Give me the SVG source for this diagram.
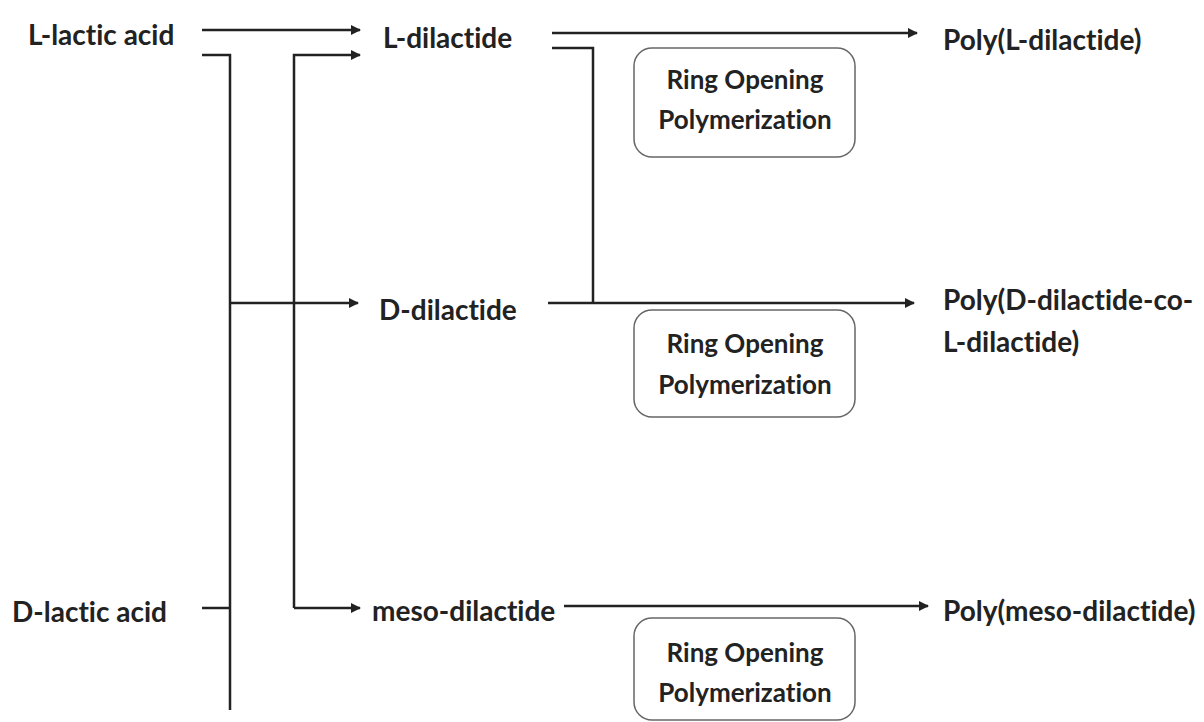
<svg xmlns="http://www.w3.org/2000/svg" width="1204" height="722" viewBox="0 0 1204 722">
<style>
.t{font-family:Lato,"Open Sans","Liberation Sans",sans-serif;font-weight:700;font-size:28px;fill:#222;font-variant-ligatures:none}
.b{font-family:Lato,"Open Sans","Liberation Sans",sans-serif;font-weight:700;font-size:26px;fill:#222;text-anchor:middle;font-variant-ligatures:none}
.ln{fill:none;stroke:#222;stroke-width:2.5}
.box{fill:#fff;stroke:#666;stroke-width:1.5}
</style>
<defs>
<marker id="ah" viewBox="0 0 10 10" refX="9" refY="5" markerWidth="4" markerHeight="4" orient="auto" markerUnits="strokeWidth">
<path d="M0,0 L10,5 L0,10 z" fill="#222"/>
</marker>
</defs>
<rect width="1204" height="722" fill="#fff"/>
<g id="connectors">
<path class="ln" d="M202,30 H360" marker-end="url(#ah)"/>
<path class="ln" d="M202,55 H230 V710"/>
<path class="ln" d="M202,608 H230"/>
<path class="ln" d="M230,303 H358" marker-end="url(#ah)"/>
<path class="ln" d="M294,608 V55 H360" marker-end="url(#ah)"/>
<path class="ln" d="M294,608 H360" marker-end="url(#ah)"/>
<path class="ln" d="M552,33 H917" marker-end="url(#ah)"/>
<path class="ln" d="M552,48 H593 V303"/>
<path class="ln" d="M548,303 H914" marker-end="url(#ah)"/>
<path class="ln" d="M564,606 H928" marker-end="url(#ah)"/>
</g>
<g id="l-lactic-acid"><text class="t" x="28" y="45">L-lactic acid</text></g>
<g id="d-lactic-acid"><text class="t" x="12" y="622">D-lactic acid</text></g>
<g id="l-dilactide"><text class="t" x="383" y="48">L-dilactide</text></g>
<g id="d-dilactide"><text class="t" x="379" y="320">D-dilactide</text></g>
<g id="meso-dilactide"><text class="t" x="372" y="621">meso-dilactide</text></g>
<g id="poly-l"><text class="t" x="943" y="50">Poly(L-dilactide)</text></g>
<g id="poly-dl"><text class="t" x="943" y="310">Poly(D-dilactide-co-</text><text class="t" x="943" y="352">L-dilactide)</text></g>
<g id="poly-meso"><text class="t" x="943" y="621">Poly(meso-dilactide)</text></g>
<g id="rop1"><rect class="box" x="634" y="48" width="221" height="109" rx="18"/><text class="b" x="745" y="89">Ring Opening</text><text class="b" x="745" y="129">Polymerization</text></g>
<g id="rop2"><rect class="box" x="634" y="310" width="221" height="107" rx="18"/><text class="b" x="745" y="353">Ring Opening</text><text class="b" x="745" y="394">Polymerization</text></g>
<g id="rop3"><rect class="box" x="634" y="618" width="221" height="102" rx="18"/><text class="b" x="745" y="662">Ring Opening</text><text class="b" x="745" y="702">Polymerization</text></g>
</svg>
